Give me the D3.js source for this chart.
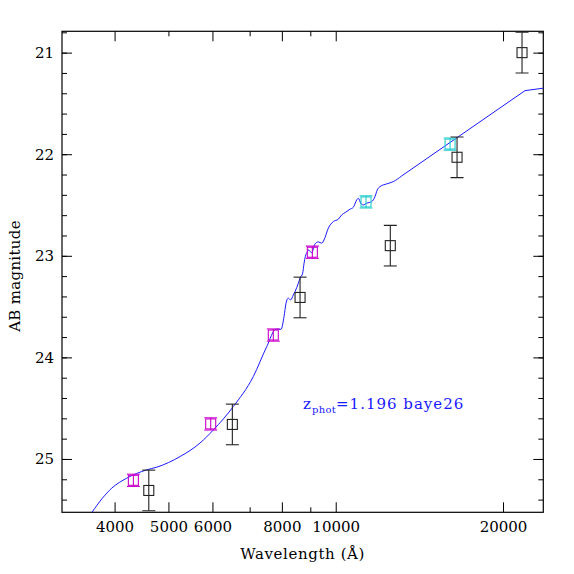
<!DOCTYPE html>
<html lang="en">
<head>
    <meta charset="utf-8">
    <script src="https://d3js.org/d3.v7.min.js"></script>
    <title>SED fit</title>
    <style>
        body { margin: 0; background: #fff; }
        text { font-family: "DejaVu Serif", serif; }
    </style>
</head>
<body>
    <svg width="574" height="574"></svg>
    <script>

        // observed photometry (wavelength in A, AB mag, error)
        var obsWave = [4609, 6516, 8626, 12537, 16531, 21638];
        var obsMag  = [25.31, 24.66, 23.41, 22.90, 22.03, 21.00];
        var obsErr  = [0.2, 0.2, 0.2, 0.2, 0.2, 0.2];

        // model magnitudes in the filters
        var modWave  = [4324, 5957, 7721, 9077, 11337, 16060];
        var modMag   = [25.21, 24.655, 23.78, 22.965, 22.47, 21.90];
        var modErr   = [0.06, 0.06, 0.06, 0.06, 0.06, 0.06];
        var modColor = ["#cc00cc", "#cc00cc", "#cc00cc", "#cc00cc", "#22cccc", "#22cccc"];

        // best-fit template spectrum
        var specWave = [3562, 3644, 3954, 4207, 4571, 4764, 5248, 5697, 6024, 6542, 7107, 7514,
                        7808, 7972, 8072, 8139, 8216, 8299, 8388, 8449, 8565, 8626, 8721, 8770,
                        8816, 8890, 8927, 9053, 9178, 9305, 9436, 9526, 9698, 9901, 10108, 10252,
                        10393, 10610, 10757, 10909, 10982, 11092, 11212, 11370, 11609, 11767, 11879,
                        12013, 12352, 12692, 13140, 21908, 23700];
        var specMag  = [25.607, 25.524, 25.287, 25.189, 25.107, 25.081, 24.976, 24.844, 24.714, 24.484, 24.189, 23.894,
                        23.722, 23.724, 23.598, 23.467, 23.417, 23.434, 23.385, 23.352, 23.270, 23.220, 23.171, 23.073,
                        23.008, 22.959, 22.942, 22.969, 22.883, 22.863, 22.876, 22.844, 22.728, 22.663, 22.640, 22.597,
                        22.575, 22.541, 22.522, 22.450, 22.433, 22.482, 22.499, 22.482, 22.467, 22.417, 22.351,
                        22.319, 22.292, 22.270, 22.214, 21.374, 21.349];
        // beyond this wavelength the template is drawn with straight segments
        var specLinearFrom = 13140;

        var xMajorBottom = [4000, 5000, 6000, 8000, 10000, 20000];
        var xMinorBottom = [7000, 9000];
        var xMajorTop    = [4000, 6000, 8000, 10000, 20000];
        var xMinorTop    = [5000, 7000, 9000];
        var yMajor = [21, 22, 23, 24, 25];
        var yMinor = d3.range(104, 128).map(function (d) { return d / 5; });

        var svg = d3.select("svg");
        var pLeft = 62, pTop = 31.3, pRight = 543.3, pBottom = 512.3;

        var x = d3.scaleLog().domain([3217, 23632]).range([pLeft, pRight]);
        var y = d3.scaleLinear().domain([20.79, 25.525]).range([pTop, pBottom]);

        svg.append("clipPath").attr("id", "clip")
            .append("rect")
            .attr("x", pLeft).attr("y", pTop)
            .attr("width", pRight - pLeft).attr("height", pBottom - pTop);

        function styleAxis(g) {
            g.select(".domain").remove();
            g.selectAll("line").attr("stroke", "#000");
            g.selectAll("text")
                .attr("fill", "#000")
                .style("font-size", "15px")
                .style("font-family", "DejaVu Serif");
        }

        // x axes
        svg.append("g")
            .attr("transform", "translate(0," + pBottom + ")")
            .call(d3.axisBottom(x).tickValues(xMajorBottom).tickSize(-10).tickPadding(9)
                .tickFormat(d3.format("d")))
            .call(styleAxis);
        svg.append("g")
            .attr("transform", "translate(0," + pBottom + ")")
            .call(d3.axisBottom(x).tickValues(xMinorBottom).tickSize(-5).tickFormat(""))
            .call(styleAxis);
        svg.append("g")
            .attr("transform", "translate(0," + pTop + ")")
            .call(d3.axisTop(x).tickValues(xMajorTop).tickSize(-10).tickFormat(""))
            .call(styleAxis);
        svg.append("g")
            .attr("transform", "translate(0," + pTop + ")")
            .call(d3.axisTop(x).tickValues(xMinorTop).tickSize(-5).tickFormat(""))
            .call(styleAxis);

        // y axes
        svg.append("g")
            .attr("transform", "translate(" + pLeft + ",0)")
            .call(d3.axisLeft(y).tickValues(yMinor).tickSize(-5).tickFormat(""))
            .call(styleAxis);
        svg.append("g")
            .attr("transform", "translate(" + pLeft + ",0)")
            .call(d3.axisLeft(y).tickValues(yMajor).tickSize(-10).tickPadding(8)
                .tickFormat(d3.format("d")))
            .call(styleAxis);
        svg.append("g")
            .attr("transform", "translate(" + pRight + ",0)")
            .call(d3.axisRight(y).tickValues(yMinor).tickSize(-5).tickFormat(""))
            .call(styleAxis);
        svg.append("g")
            .attr("transform", "translate(" + pRight + ",0)")
            .call(d3.axisRight(y).tickValues(yMajor).tickSize(-10).tickFormat(""))
            .call(styleAxis);

        // frame
        svg.append("rect")
            .attr("x", pLeft).attr("y", pTop)
            .attr("width", pRight - pLeft).attr("height", pBottom - pTop)
            .attr("fill", "none").attr("stroke", "#000").attr("stroke-width", 1.2);

        var plot = svg.append("g").attr("clip-path", "url(#clip)");

        // template spectrum: smooth part plus straight tail
        var spec = d3.zip(specWave, specMag);
        var smoothPart = spec.filter(function (d) { return d[0] <= specLinearFrom; });
        var linearPart = spec.filter(function (d) { return d[0] >= specLinearFrom; });
        var smoothLine = d3.line()
            .x(function (d) { return x(d[0]); })
            .y(function (d) { return y(d[1]); })
            .curve(d3.curveMonotoneX);
        var straightLine = d3.line()
            .x(function (d) { return x(d[0]); })
            .y(function (d) { return y(d[1]); });
        [[smoothPart, smoothLine], [linearPart, straightLine]].forEach(function (p) {
            plot.append("path")
                .datum(p[0])
                .attr("d", p[1])
                .attr("fill", "none")
                .attr("stroke", "#1a1aff")
                .attr("stroke-width", 1);
        });

        // squares with error bars
        function drawPoints(wave, mag, err, colors) {
            var g = plot.append("g").selectAll("g")
                .data(d3.range(wave.length))
                .enter().append("g")
                .attr("stroke", function (i) { return colors[i]; })
                .attr("stroke-width", 1.1)
                .attr("fill", "none");
            g.append("line")
                .attr("x1", function (i) { return x(wave[i]); })
                .attr("x2", function (i) { return x(wave[i]); })
                .attr("y1", function (i) { return y(mag[i] - err[i]); })
                .attr("y2", function (i) { return y(mag[i] + err[i]); });
            [-1, 1].forEach(function (s) {
                g.append("line")
                    .attr("x1", function (i) { return x(wave[i]) - 6.5; })
                    .attr("x2", function (i) { return x(wave[i]) + 6.5; })
                    .attr("y1", function (i) { return y(mag[i] + s * err[i]); })
                    .attr("y2", function (i) { return y(mag[i] + s * err[i]); });
            });
            g.append("rect")
                .attr("x", function (i) { return x(wave[i]) - 5; })
                .attr("y", function (i) { return y(mag[i]) - 5; })
                .attr("width", 10).attr("height", 10);
        }

        drawPoints(modWave, modMag, modErr, modColor);
        drawPoints(obsWave, obsMag, obsErr, obsWave.map(function () { return "#222"; }));

        // labels
        svg.append("text")
            .attr("x", (pLeft + pRight) / 2)
            .attr("y", 559)
            .attr("text-anchor", "middle")
            .style("font-size", "15px")
            .style("letter-spacing", "0.6px")
            .text("Wavelength (Å)");

        svg.append("text")
            .attr("transform", "translate(20,276)rotate(-90)")
            .attr("text-anchor", "middle")
            .style("font-size", "15px")
            .style("letter-spacing", "0.3px")
            .text("AB magnitude");

        var zt = svg.append("text")
            .attr("x", x(8626) + 3)
            .attr("y", 409)
            .attr("fill", "#1a1aff")
            .style("font-size", "15px")
            .style("letter-spacing", "1px");
        zt.append("tspan").text("z");
        zt.append("tspan").attr("dy", 4).style("font-size", "10px").style("letter-spacing", "0.3px").text("phot");
        zt.append("tspan").attr("dy", -4).text("=1.196 baye26");

    </script>
</body>
</html>
